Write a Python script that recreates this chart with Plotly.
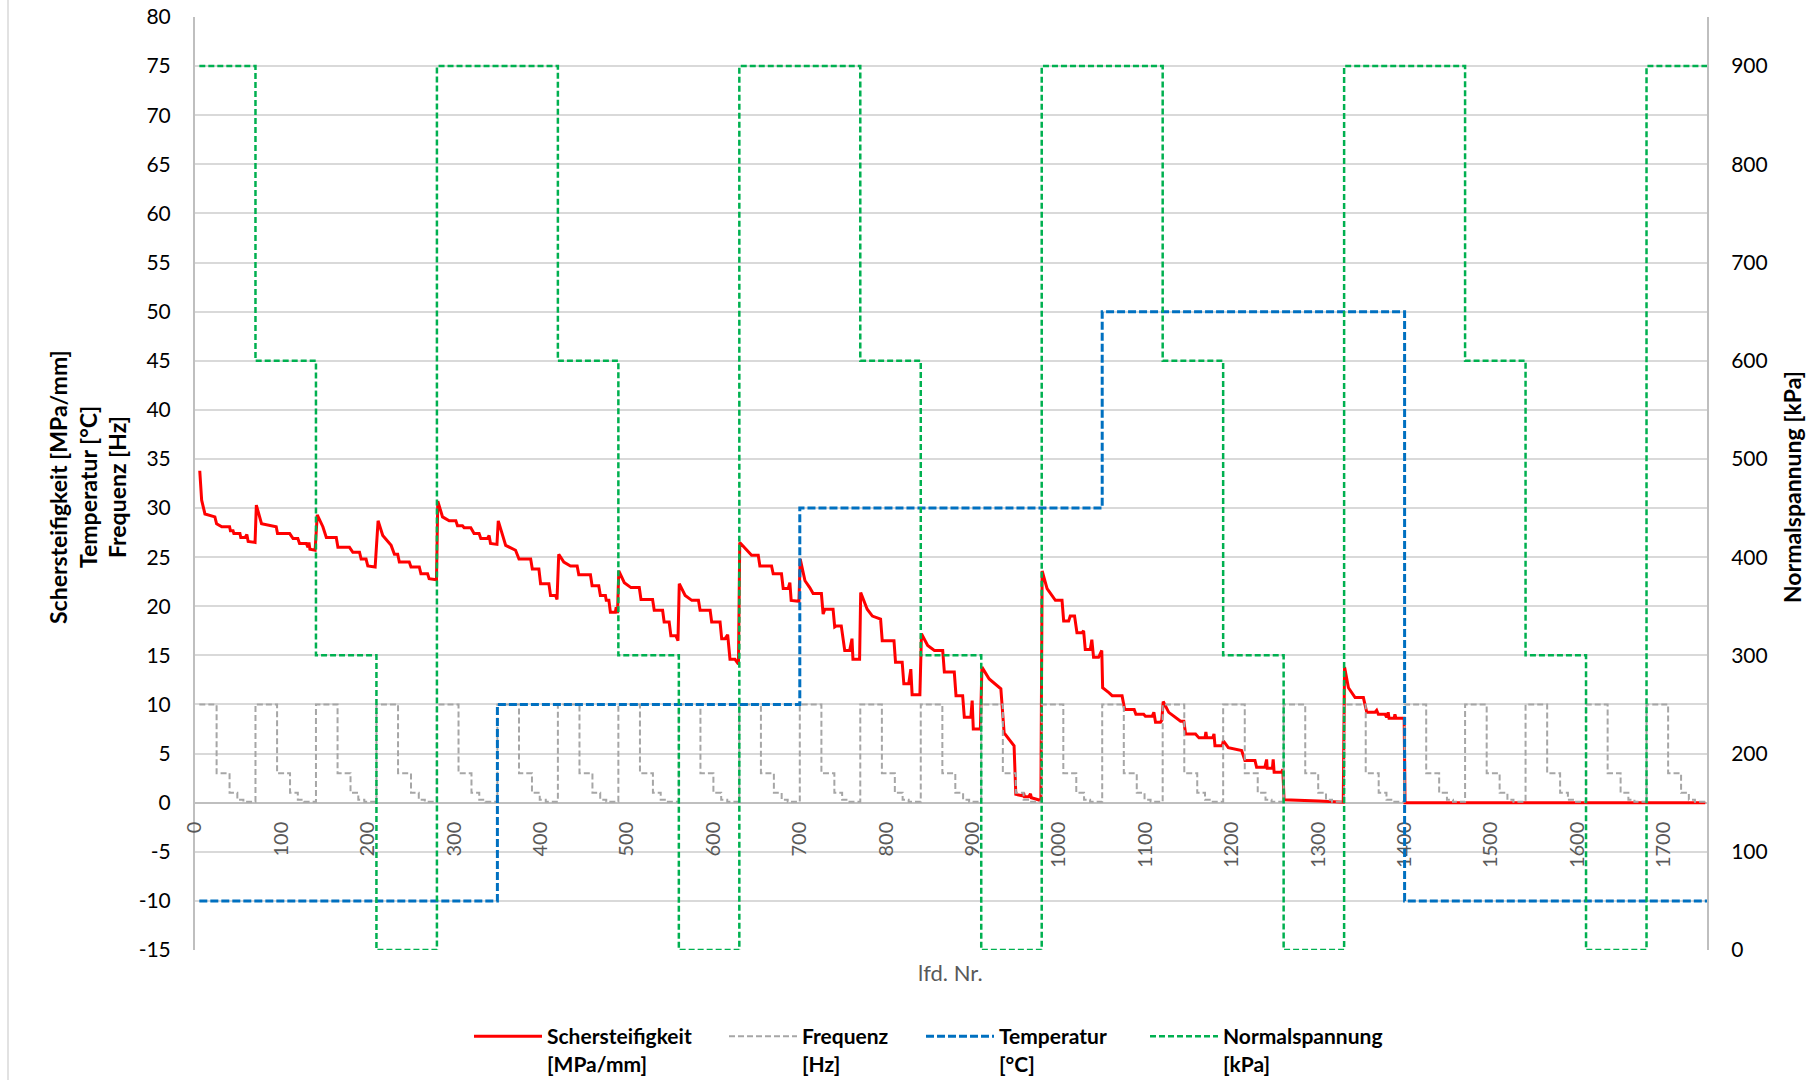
import plotly.graph_objects as go

# ---------------- data ----------------
# test protocol: blocks of 70 readings
BLOCK_START = [5, 70, 140, 210, 280, 350, 420, 490, 560, 630, 700, 770, 840, 910,
               980, 1050, 1120, 1190, 1260, 1330, 1400, 1470, 1540, 1610, 1680]
X_END = 1750
NORMAL_KPA = [900, 600, 300, 0, 900, 900, 600, 300, 0, 900, 900, 600, 300, 0, 900,
              900, 600, 300, 0, 900, 900, 600, 300, 0, 900]
FREQ_OFFSETS = [0, 25, 40, 49, 56]
FREQ_HZ = [10, 3, 1, 0.3, 0.1]
TEMP_X = [5, 350, 700, 1050, 1400, 1750]
TEMP_C = [-10, 10, 30, 50, -10, -10]

SCHER_X = [
    5.5, 7.7, 11.5, 23, 25, 31, 40, 41, 44, 45, 52, 53, 58, 60, 61.5, 69.5,
    71, 77, 94, 95.5, 109.6, 113.5, 119, 121, 128.8, 130.8, 131.9, 133, 139,
    141.5, 148, 152, 163.5, 165.4, 178.8, 182.7, 190.4, 192.3, 198, 200, 208.5,
    211.9, 217.3, 227, 230.8, 234.6, 236.5, 248, 250, 259.6, 261.5, 269.2, 271, 279.5,
    281, 286.5, 294.2, 301.9, 303.8, 309.6, 311.5, 319.2, 323, 328.8, 330.8, 338.5, 340.4, 342, 349.5,
    351, 359.6, 371, 375, 388.5, 390.4, 398, 400, 409.6, 411.5, 417.3, 419,
    421, 426.9, 434.6, 442.3, 444.2, 457.7, 459.6, 467.3, 469.2, 475, 476, 479, 480.8, 486.5, 487.5, 489,
    490.5, 496.9, 504.6, 514.2, 516.2, 529.6, 531.5, 541.2, 543, 548.8, 550.8, 556.5, 559,
    560.5, 567.3, 575, 582.7, 584.6, 596.2, 598, 607.7, 609.6, 613.5, 616.5, 619.2, 625, 629,
    630.5, 637.3, 644.2, 651.9, 653.8, 667.3, 669.2, 678.8, 680.8, 686.5, 688.5, 690, 699,
    700.5, 706, 711.5, 715.4, 725, 727, 729, 738.5, 740.4, 742.3, 748, 752, 757.7, 760.4, 761.5, 769.2,
    770.5, 778, 784, 793.5, 795.4, 809, 810.8, 818.5, 820.4, 826, 828.5, 830, 839,
    840.8, 848, 855.8, 865.4, 867.3, 878.8, 880.8, 888.5, 890.4, 898, 899.5, 900.8, 909,
    910.8, 919.2, 932.7, 936.5, 948, 950, 957.7, 959, 960, 965, 967, 968, 976, 979,
    980.5, 986.2, 995.8, 1003.5, 1005.4, 1011.2, 1013, 1018, 1020.8, 1026.5, 1028.5, 1030.4, 1036.2,
    1038, 1040, 1045.8, 1049.5,
    1050.5, 1057.7, 1061.5, 1073, 1076, 1087, 1089, 1098, 1100, 1107.8, 1109.8, 1111.7, 1117.5, 1119,
    1120.6, 1127, 1140.7, 1144.5, 1146.5, 1158, 1162, 1169, 1170, 1171, 1178, 1179.4, 1180.5, 1189,
    1190.2, 1196, 1211.4, 1215.2, 1226.8, 1228.7, 1238.3, 1240.3, 1241, 1247, 1247.9, 1249, 1257.6, 1259,
    1260.5, 1300.6, 1329,
    1330.5, 1335, 1342.7, 1352.3, 1356.2, 1365.8, 1367.7, 1369.6, 1377.3, 1379.2, 1381, 1382, 1388,
    1388.8, 1390, 1399.5,
    1400.5, 1748,
]
SCHER_Y = [
    33.8, 30.8, 29.4, 29.1, 28.4, 28.1, 28.1, 27.7, 27.7, 27.4, 27.4, 27.0, 27.0, 27.3, 26.6, 26.5,
    30.3, 28.4, 28.1, 27.4, 27.4, 26.9, 26.9, 26.4, 26.4, 26.0, 26.5, 25.8, 25.7,
    29.3, 28.1, 27.0, 27.0, 26.0, 26.0, 25.5, 25.5, 24.8, 24.8, 24.1, 24.0,
    28.7, 27.2, 26.2, 25.3, 25.3, 24.5, 24.5, 24.0, 24.0, 23.3, 23.3, 22.8, 22.7,
    30.7, 29.1, 28.7, 28.7, 28.2, 28.2, 28.0, 28.0, 27.4, 27.4, 26.9, 26.9, 27.2, 26.4, 26.3,
    28.7, 26.2, 25.7, 24.8, 24.8, 23.8, 23.8, 22.3, 22.3, 21.1, 21.1, 20.7,
    25.3, 24.5, 24.1, 24.1, 23.2, 23.2, 22.1, 22.1, 21.1, 21.1, 20.6, 20.6, 19.4, 19.4, 19.9, 19.3,
    23.6, 22.4, 21.9, 21.9, 20.7, 20.7, 19.6, 19.6, 18.4, 18.4, 17.0, 17.0, 16.5,
    22.3, 21.1, 20.6, 20.6, 19.6, 19.6, 18.4, 18.4, 16.7, 16.7, 17.1, 14.6, 14.6, 14.1,
    26.5, 25.8, 25.2, 25.2, 24.1, 24.1, 23.3, 23.3, 21.8, 21.8, 22.4, 20.6, 20.5,
    24.8, 22.6, 21.9, 21.3, 21.3, 19.2, 19.7, 19.7, 17.9, 18.0, 18.0, 15.5, 15.5, 16.7, 14.6, 14.6,
    21.4, 19.7, 19.0, 18.7, 16.5, 16.5, 14.3, 14.3, 12.1, 12.1, 13.6, 11.0, 11.0,
    17.2, 16.0, 15.5, 15.5, 13.3, 13.3, 10.9, 10.9, 8.7, 8.7, 10.4, 7.5, 7.5,
    13.8, 12.6, 11.6, 7.1, 5.8, 0.85, 0.7, 1.0, 0.6, 0.6, 0.9, 0.5, 0.3, 0.2,
    23.6, 21.8, 20.6, 20.6, 18.5, 18.5, 19.0, 19.0, 17.3, 17.3, 17.5, 15.6, 15.6,
    16.6, 14.8, 14.8, 15.5,
    11.7, 11.2, 10.9, 10.9, 9.5, 9.5, 9.0, 9.0, 8.8, 8.8, 9.2, 8.2, 8.2, 8.4,
    10.3, 9.2, 8.3, 8.3, 7.0, 7.0, 6.6, 6.6, 7.2, 6.6, 6.6, 7.0, 5.8, 5.8,
    6.3, 5.6, 5.3, 4.3, 4.3, 3.6, 3.6, 4.4, 3.5, 3.5, 4.4, 3.1, 3.1, 3.4,
    0.3, 0.17, 0.05,
    13.8, 11.7, 10.7, 10.7, 9.2, 9.2, 9.4, 9.0, 9.0, 8.7, 9.2, 8.6, 8.6,
    9.0, 8.6, 8.6,
    0.0, 0.0,
]

X_TICKS = list(range(0, 1800, 100))
Y_TICKS = list(range(-15, 85, 5))
Y_TICK_TEXT = [str(v) for v in Y_TICKS]   # plain hyphen minus as in the original
Y2_TICKS = list(range(0, 1000, 100))

# ---------------- build step series ----------------
freq_x, freq_y = [], []
for i, b in enumerate(BLOCK_START):
    base = 0 if i == 0 else b
    for off, f in zip(FREQ_OFFSETS, FREQ_HZ):
        freq_x.append(max(base + off, BLOCK_START[0]))
        freq_y.append(f)
freq_x.append(X_END)
freq_y.append(FREQ_HZ[-1])

norm_x = BLOCK_START + [X_END]
norm_y = NORMAL_KPA + [NORMAL_KPA[-1]]

FONT = "Lato"

fig = go.Figure()
fig.add_trace(go.Scatter(x=SCHER_X, y=SCHER_Y, mode="lines",
                         name="Schersteifigkeit<br>[MPa/mm]", legend="legend",
                         line=dict(color="#ff0000", width=3)))
fig.add_trace(go.Scatter(x=freq_x, y=freq_y, mode="lines", line_shape="hv",
                         name="Frequenz<br>[Hz]", legend="legend2",
                         line=dict(color="#a6a6a6", width=2, dash="6px,3px")))
fig.add_trace(go.Scatter(x=TEMP_X, y=TEMP_C, mode="lines", line_shape="hv",
                         name="Temperatur<br>[°C]", legend="legend3",
                         line=dict(color="#0070c0", width=3, dash="8px,3px")))
fig.add_trace(go.Scatter(x=norm_x, y=norm_y, mode="lines", line_shape="hv",
                         name="Normalspannung<br>[kPa]", yaxis="y2", legend="legend4",
                         line=dict(color="#00b050", width=2.5, dash="6px,3px")))

L, R, T, B = 195, 111, 17, 130
W, H = 1818, 1080
PW, PH = W - L - R, H - T - B

def px_x(px):
    return (px - L) / PW

def px_y(py):
    return (H - B - py) / PH

def legend_at(xpx):
    return dict(orientation="h", x=px_x(xpx), xanchor="left",
                y=px_y(1016), yanchor="top", valign="top",
                itemwidth=68,
                font=dict(size=21, family=FONT, color="black", weight="bold"),
                bgcolor="rgba(0,0,0,0)")

fig.update_layout(
    width=W, height=H,
    margin=dict(l=L, r=R, t=T, b=B, autoexpand=False),
    paper_bgcolor="white", plot_bgcolor="white",
    font=dict(family=FONT, color="black"),
    xaxis=dict(range=[0, X_END], tickvals=X_TICKS, tickangle=-90,
               anchor="free", position=15 / 95,
               showgrid=False, zeroline=False, showline=True,
               linecolor="#bfbfbf", linewidth=2, ticks="", layer="below traces",
               tickfont=dict(size=20, color="#595959", family=FONT),
               ticklabelstandoff=10),
    yaxis=dict(range=[-15, 80], tickvals=Y_TICKS, ticktext=Y_TICK_TEXT, showgrid=True,
               gridcolor="#d9d9d9", gridwidth=1.5, zeroline=False,
               showline=True, linecolor="#bfbfbf", linewidth=2, ticks="",
               layer="below traces",
               tickfont=dict(size=21, color="black", family=FONT),
               ticklabelstandoff=18),
    yaxis2=dict(range=[0, 950], tickvals=Y2_TICKS, overlaying="y", side="right",
                showgrid=False, zeroline=False, showline=True,
                linecolor="#bfbfbf", linewidth=2, ticks="", layer="below traces",
                tickfont=dict(size=21, color="black", family=FONT),
                ticklabelstandoff=18),
    showlegend=True,
    legend=legend_at(469),
    legend2=legend_at(724),
    legend3=legend_at(921),
    legend4=legend_at(1145),
)

# axis titles
left_titles = ["Schersteifigkeit [MPa/mm]", "Temperatur [°C]", "Frequenz [Hz]"]
for txt, cx in zip(left_titles, [58, 88, 117]):
    fig.add_annotation(text=txt, xref="paper", yref="paper",
                       x=px_x(cx), y=px_y(487), xanchor="center", yanchor="middle",
                       textangle=-90, showarrow=False,
                       font=dict(size=23, family=FONT, color="black", weight="bold"))
fig.add_annotation(text="Normalspannung [kPa]", xref="paper", yref="paper",
                   x=px_x(1792), y=px_y(487), xanchor="center", yanchor="middle",
                   textangle=-90, showarrow=False,
                   font=dict(size=23, family=FONT, color="black", weight="bold"))
fig.add_annotation(text="lfd. Nr.", xref="paper", yref="paper",
                   x=px_x(950), y=px_y(973), xanchor="center", yanchor="middle",
                   showarrow=False,
                   font=dict(size=22, family=FONT, color="#595959"))

# chart frame line at far left
fig.add_shape(type="line", xref="paper", yref="paper",
              x0=px_x(8), x1=px_x(8), y0=px_y(1080), y1=px_y(0),
              line=dict(color="#d9d9d9", width=1.5))

fig.write_html("out.html")
